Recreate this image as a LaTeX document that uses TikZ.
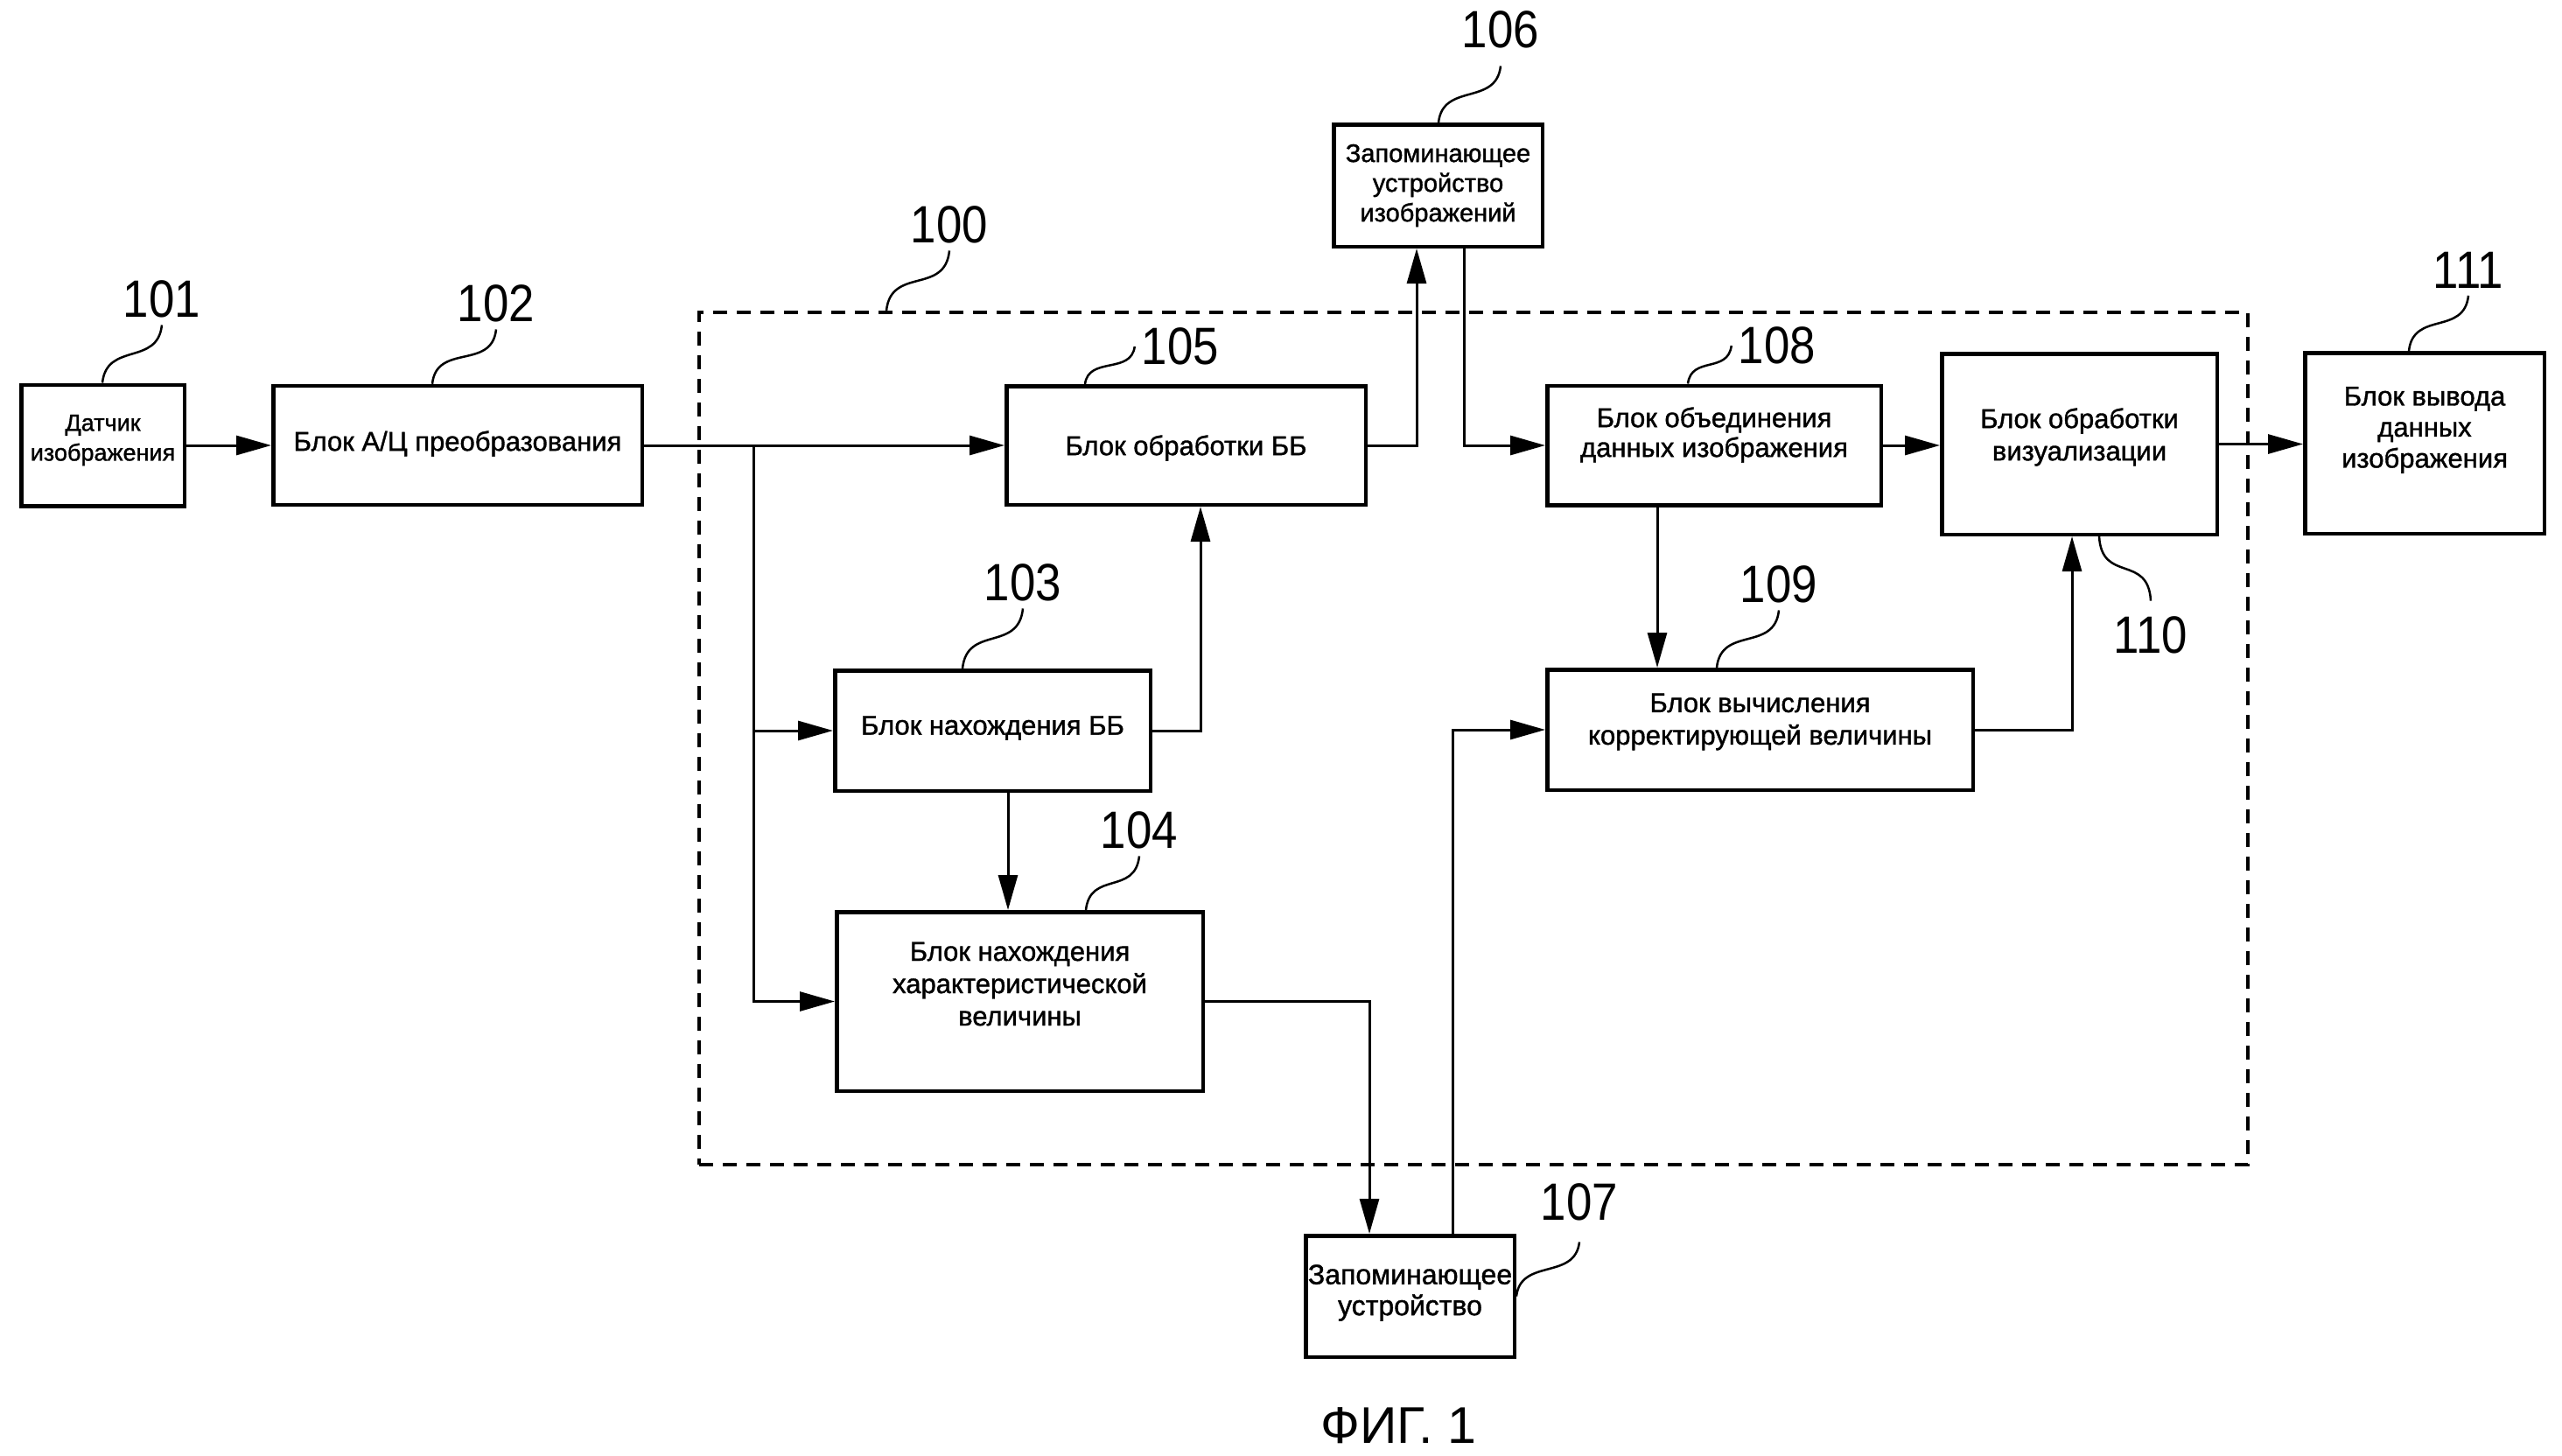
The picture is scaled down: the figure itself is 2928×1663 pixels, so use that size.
\documentclass[tikz,border=0pt]{standalone}
\usepackage{fontspec}
\setmainfont{Liberation Sans}
\newfontfamily\labfont[FakeStretch=0.88]{Liberation Sans}
\newfontfamily\boxfont[FakeBold=1.2]{Liberation Sans}
\usetikzlibrary{arrows.meta}
\begin{document}
\begin{tikzpicture}[x=1pt,y=-1pt,
  blk/.style={draw, line width=4.5pt, inner sep=0pt},
  txt/.style={inner sep=0pt, align=center, font=\boxfont\fontsize{31}{36}\selectfont},
  arr/.style={line width=3pt, line join=miter, -{Triangle[length=40pt,width=22pt]}},
  lead/.style={line width=2.5pt},
  lab/.style={inner sep=8pt, font=\labfont\fontsize{60}{60}\selectfont},
  grp/.style={draw, line width=3.5pt, dash pattern=on 16pt off 11pt, inner sep=0pt}]
\useasboundingbox (0,0) rectangle (2928,1663);

% group 100
\node[grp, minimum width=1770pt, minimum height=974pt] (g100) at (1684,844) {};

% blocks
\node[blk, minimum width=186.5pt, minimum height=138.5pt] (b101) at (117.5,509) {};
\node[blk, minimum width=421.5pt, minimum height=136pt] (b102) at (523,509) {};
\node[blk, minimum width=410.5pt, minimum height=135.5pt] (b105) at (1355.5,509) {};
\node[blk, minimum width=238.5pt, minimum height=139.5pt] (b106) at (1643.5,212) {};
\node[blk, minimum width=381.5pt, minimum height=136.5pt] (b108) at (1959,509) {};
\node[blk, minimum width=314.5pt, minimum height=206.5pt] (b110) at (2376.5,507.5) {};
\node[blk, minimum width=273.5pt, minimum height=206.5pt] (b111) at (2771,506.5) {};
\node[blk, minimum width=360.5pt, minimum height=137.5pt] (b103) at (1134.5,835) {};
\node[blk, minimum width=418.5pt, minimum height=204.5pt] (b104) at (1165.5,1144.5) {};
\node[blk, minimum width=486.5pt, minimum height=137.5pt] (b109) at (2011.5,834) {};
\node[blk, minimum width=238.5pt, minimum height=138.5pt] (b107) at (1611.5,1481.5) {};

% block texts
\node[txt, font=\boxfont\fontsize{27}{34}\selectfont] (t101) at ([yshift=6pt]b101.center) {Датчик\\изображения};
\node[txt] (t102) at ([yshift=2pt]b102.center) {Блок А/Ц преобразования};
\node[txt] (t105) at ([yshift=-3pt]b105.center) {Блок обработки ББ};
\node[txt, font=\boxfont\fontsize{29}{34}\selectfont] (t106) at (b106.center) {Запоминающее\\устройство\\изображений};
\node[txt, font=\boxfont\fontsize{31}{34}\selectfont] (t108) at ([yshift=12pt]b108.center) {Блок объединения\\данных изображения};
\node[txt, font=\boxfont\fontsize{31}{37}\selectfont] (t110) at ([yshift=8pt]b110.center) {Блок обработки\\визуализации};
\node[txt, font=\boxfont\fontsize{31}{35.5}\selectfont] (t111) at ([yshift=15pt]b111.center) {Блок вывода\\данных\\изображения};
\node[txt] (t103) at ([yshift=3pt]b103.center) {Блок нахождения ББ};
\node[txt, font=\boxfont\fontsize{31}{37}\selectfont] (t104) at ([yshift=20pt]b104.center) {Блок нахождения\\характеристической\\величины};
\node[txt, font=\boxfont\fontsize{31}{37}\selectfont] (t109) at ([yshift=9pt]b109.center) {Блок вычисления\\корректирующей величины};
\node[txt, font=\boxfont\fontsize{32}{35.5}\selectfont] (t107) at ([yshift=4pt]b107.center) {Запоминающее\\устройство};

% labels
\node[lab] (l101) at (185,342) {101};
\node[lab] (l102) at (567,347) {102};
\node[lab] (l100) at (1085,257) {100};
\node[lab] (l106) at (1715,34) {106};
\node[lab] (l105) at (1349,396) {105};
\node[lab] (l108) at (2031,395) {108};
\node[lab] (l103) at (1169,666) {103};
\node[lab] (l104) at (1302,949) {104};
\node[lab] (l109) at (2033,668) {109};
\node[lab] (l110) at (2458,726) {110};
\node[lab] (l111) at (2821,309) {111};
\node[lab] (l107) at (1805,1374) {107};
\node[font=\fontsize{59}{59}\selectfont] (fig) at (1598,1629) {ФИГ. 1};

% leaders
\draw[lead] (117,0 |- b101.north) .. controls +(5,-47) and +(-5,47) .. (l101.south);
\draw[lead] (494,0 |- b102.north) .. controls +(5,-47) and +(-5,47) .. (l102.south);
\draw[lead] (1013,0 |- g100.north) .. controls +(5,-51) and +(-5,51) .. (l100.south);
\draw[lead] (1644,0 |- b106.north) .. controls +(5,-46) and +(-5,46) .. ([yshift=-12pt]l106.south);
\draw[lead] (1240,0 |- b105.north) .. controls +(4,-32) and +(-4,32) .. (l105.west);
\draw[lead] (1929,0 |- b108.north) .. controls +(4,-32) and +(-4,32) .. (l108.west);
\draw[lead] (1100,0 |- b103.north) .. controls +(5,-50) and +(-5,50) .. (l103.south);
\draw[lead] (1241,0 |- b104.north) .. controls +(5,-45) and +(-5,45) .. (l104.south);
\draw[lead] (1962,0 |- b109.north) .. controls +(5,-48) and +(-5,48) .. (l109.south);
\draw[lead] (2399,0 |- b110.south) .. controls +(3,54) and +(-3,-54) .. ([yshift=10pt]l110.north);
\draw[lead] (2753,0 |- b111.north) .. controls +(5,-46) and +(-5,46) .. (l111.south);
\draw[lead] (b107.east) .. controls +(5,-44) and +(-5,44) .. ([yshift=-16pt]l107.south);

% connectors
\coordinate (br) at (861,509);
\draw[arr] (b101.east) -- (b102.west);
\draw[arr] (b102.east) -- (b105.west);
\draw[line width=3pt] (br) -- (861,1145);
\draw[arr] (br) |- (b103.west);
\draw[arr] (br) |- (b104.west);
\draw[arr] (b103.east) -| (1372,0 |- b105.south);
\draw[arr] (1152,0 |- b103.south) -- (1152,0 |- b104.north);
\draw[arr] (b105.east) -| (1619,0 |- b106.south);
\draw[arr] (1673,0 |- b106.south) |- (b108.west);
\draw[arr] (b108.east) -- (b110.west |- b108.east);
\draw[arr] (b110.east) -- (b111.west |- b110.east);
\draw[arr] (1894,0 |- b108.south) -- (1894,0 |- b109.north);
\draw[arr] (b109.east) -| (2368,0 |- b110.south);
\draw[arr] (b104.east) -| (1565,0 |- b107.north);
\draw[arr] (1660,0 |- b107.north) |- (b109.west);
\end{tikzpicture}
\end{document}
